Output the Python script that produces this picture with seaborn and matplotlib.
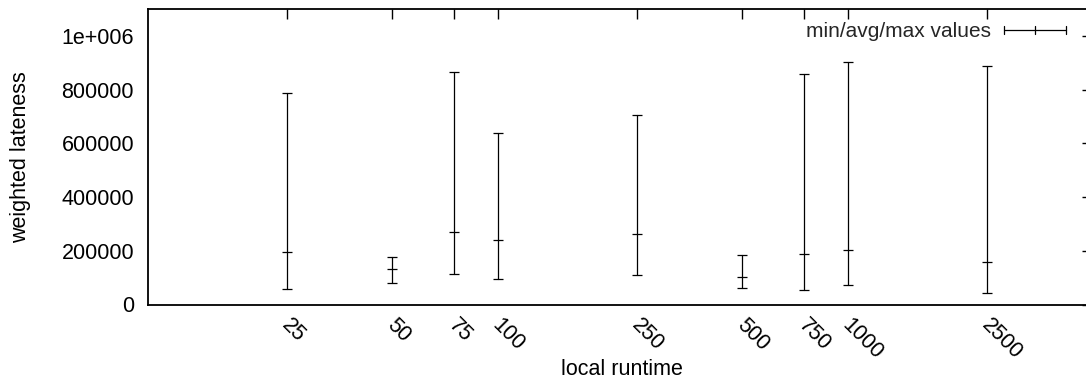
import matplotlib
matplotlib.use("Agg")
import matplotlib.pyplot as plt
from matplotlib.legend_handler import HandlerBase
from matplotlib.lines import Line2D
from matplotlib.ticker import NullLocator
from matplotlib.transforms import ScaledTranslation
import pandas as pd
import seaborn as sns

# local runtime settings and the weighted lateness observed for each
runtimes = [25, 50, 75, 100, 250, 500, 750, 1000, 2500]
min_vals = [59000, 81000, 115000, 94000, 111000, 61500, 55000, 72600, 41700]
avg_vals = [196700, 132200, 268900, 239100, 262600, 102400, 187000, 204100, 159400]
max_vals = [786600, 178000, 864800, 637600, 705800, 184400, 858500, 904300, 889400]

x_tick_labels = ["25", "50", "75", "100", "250", "500", "750", "1000", "2500"]
y_ticks = [0, 200000, 400000, 600000, 800000, 1000000]
y_tick_labels = ["0", "200000", "400000", "600000", "800000", "1e+006"]

FS = 15.5

sns.set_style("white")
plt.rcParams["font.family"] = ["Liberation Sans", "DejaVu Sans"]

# long form: one row per (runtime, statistic)
rows = []
for rt, lo, mid, hi in zip(runtimes, min_vals, avg_vals, max_vals):
    for v in (lo, mid, hi):
        rows.append({"runtime": rt, "lateness": v})
df = pd.DataFrame(rows)

W, H = 1086, 381
fig = plt.figure(figsize=(W / 100, H / 100), dpi=100)
ax = fig.add_axes([148 / W, 1 - 304.5 / H, (1092 - 148) / W, (304.5 - 9.3) / H])
ax.set_xscale("log")

# median of (min, avg, max) is the average; the bar spans min..max
sns.lineplot(
    data=df, x="runtime", y="lateness", ax=ax,
    estimator="median", errorbar=lambda v: (v.min(), v.max()),
    err_style="bars", color="black", linestyle="none",
    marker="_", markersize=6.8, markeredgewidth=0.9, markeredgecolor="black",
    err_kws=dict(capsize=3.4, capthick=0.9, elinewidth=0.9),
    legend=False,
)

ax.set_xlim(10, 5000)
ax.set_ylim(0, 1100000)

ax.set_xticks(runtimes)
ax.set_xticklabels(x_tick_labels, rotation=-45, ha="left", va="top",
                   rotation_mode="anchor")
ax.xaxis.set_minor_locator(NullLocator())
ax.set_yticks(y_ticks)
ax.set_yticklabels(y_tick_labels)

ax.tick_params(axis="both", which="major", direction="in", length=7.2,
               width=1.0, color="black", labelsize=FS, top=True, right=True,
               labelcolor="black")
ax.tick_params(axis="x", pad=7)
ax.tick_params(axis="y", pad=10)

# nudge the slanted runtime labels to the right of their ticks
shift = ScaledTranslation(0.05, 0, fig.dpi_scale_trans)
for lab in ax.get_xticklabels():
    lab.set_transform(lab.get_transform() + shift)

for sp in ax.spines.values():
    sp.set_visible(True)
    sp.set_color("black")
    sp.set_linewidth(1.3)

ax.set_xlabel("local runtime", fontsize=FS, color="black")
ax.set_ylabel("weighted lateness", fontsize=FS, color="black")
ax.xaxis.set_label_coords((622 - 148) / 944, (304.5 - 359) / 295.2)
ax.yaxis.set_label_coords((31 - 148) / 944, 0.5)


class RangeSampleHandler(HandlerBase):
    """Horizontal min/avg/max sample with end caps and a centre tick."""

    def create_artists(self, legend, orig_handle, xdescent, ydescent,
                       width, height, fontsize, trans):
        y = height / 2 - ydescent
        x0 = -xdescent
        x1 = x0 + width
        xm = (x0 + x1) / 2
        h = 3.0
        kw = dict(color="black", lw=0.9, transform=trans)
        return [
            Line2D([x0, x1], [y, y], **kw),
            Line2D([x0, x0], [y - h, y + h], **kw),
            Line2D([x1, x1], [y - h, y + h], **kw),
            Line2D([xm, xm], [y - h, y + h], **kw),
        ]


sample = Line2D([], [], color="black")
ax.legend([sample], ["min/avg/max values"],
          handler_map={Line2D: RangeSampleHandler()},
          loc="upper right", bbox_to_anchor=(1066 / W, 1 - 22 / H),
          bbox_transform=fig.transFigure, frameon=False, fontsize=15,
          markerfirst=False, handlelength=3.0, handletextpad=0.62,
          borderpad=0, borderaxespad=0)

fig.savefig("out.png", dpi=100)
